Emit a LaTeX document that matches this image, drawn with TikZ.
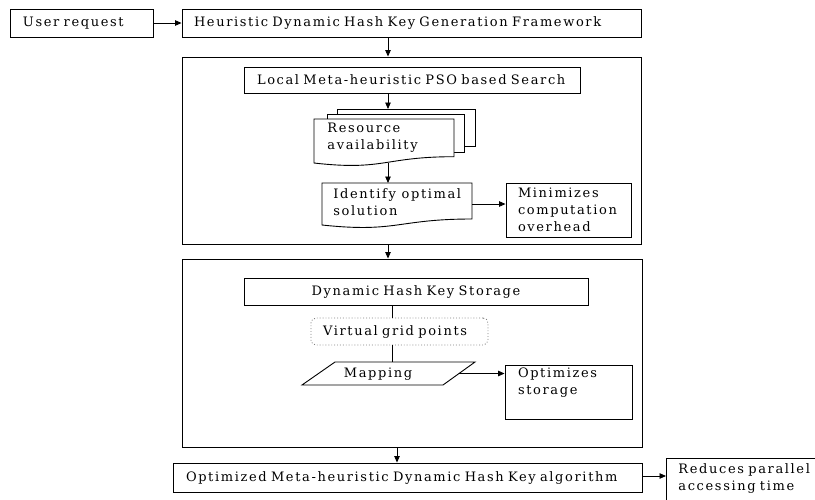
\documentclass[tikz,border=0pt]{standalone}
\usepackage{fontspec}
\setmainfont{DejaVu Serif}[LetterSpace=12.5]
\usetikzlibrary{arrows.meta}
\begin{document}
\begin{tikzpicture}[x=1pt,y=-1pt, line width=0.9pt,
  bx/.style={draw, rectangle, align=left, inner ysep=0pt},
  arr/.style={-{Triangle[length=6.5pt,width=5.5pt]}},
  txt/.style={anchor=west, align=left, inner sep=0pt},
  font=\fontsize{13}{17}\selectfont]
\useasboundingbox (0,0) rectangle (815,499);
\clip (0,0) rectangle (815,499);
% outer frames
\node[draw, minimum width=459pt, minimum height=187pt, inner sep=0pt] (box1) at (411.5,150.5) {};
\node[draw, minimum width=460pt, minimum height=188pt, inner sep=0pt] (box2) at (412,353) {};
% top row
\node[bx, minimum width=143pt, minimum height=28pt, text width=117pt, inner xsep=13pt] (user) at (81.5,23) {User request};
\node[bx, minimum width=459pt, minimum height=28pt, text width=435pt, inner xsep=12pt] (heur) at (411.5,23) {Heuristic Dynamic Hash Key Generation Framework};
% box 1 content
\node[bx, minimum width=336pt, minimum height=26pt, text width=310pt, inner xsep=13pt] (local) at (412,80) {Local Meta-heuristic PSO based Search};
\coordinate (spine) at (388,0);
\draw[fill=white] (337,109) rectangle (475,146);
\draw[fill=white] (327,114) rectangle (464,152);
\draw[fill=white] (314,119) -- (454,119) -- (454,156.7) .. controls (384,156.7) and (384,171) .. (314,163) -- cycle;
\node[txt] (res) at (327,137.5) {Resource\\availability};
\coordinate (restop) at (388,109);
\coordinate (resbot) at (388,163);
\draw (322,183) -- (472,183) -- (472,219) .. controls (397,219) and (397,233) .. (322,225) -- cycle;
\node[txt] (ident) at (333,202) {Identify optimal\\solution};
\coordinate (idtop) at (388,183);
\coordinate (idright) at (472,204);
\node[bx, minimum width=125pt, minimum height=54pt, text width=101pt, inner xsep=12pt] (minimizes) at (568.5,210) {Minimizes\\computation\\overhead};
% box 2 content
\node[bx, minimum width=344pt, minimum height=27pt, text width=320pt, inner xsep=12pt, align=center] (dhks) at (416,291.5) {Dynamic Hash Key Storage};
\node[bx, draw=gray, dotted, rounded corners=5pt, minimum width=177pt, minimum height=27pt, text width=153pt, inner xsep=12pt] (virtual) at (399.5,331.5) {Virtual grid points};
\draw (335,362) -- (475,362) -- (443,385) -- (302,385) -- cycle;
\node[inner sep=0pt] (mapping) at (378,374) {Mapping};
\coordinate (maptop) at (392,362);
\coordinate (mapright) at (459,373.5);
\node[bx, minimum width=127pt, minimum height=54pt, text width=101pt, inner xsep=13pt] (optimizes) at (568.5,392) {Optimizes\\storage\\\strut};
% bottom row
\node[bx, minimum width=469pt, minimum height=29pt, text width=443pt, inner xsep=13pt] (optimized) at (407.5,477.5) {Optimized Meta-heuristic Dynamic Hash Key algorithm};
\node[bx, anchor=north west, minimum width=200pt, minimum height=60pt, text width=176pt, inner xsep=12pt, inner ysep=5pt] (reduces) at (666,458) {Reduces parallel\\accessing time\\\strut};
\coordinate (dn) at (397,0);
\coordinate (ry) at (0,476);
% connectors
\draw[arr] (user.east) -- (heur.west);
\draw[arr] (spine |- heur.south) -- (spine |- box1.north);
\draw[arr] (spine |- local.south) -- (restop);
\draw[arr] (resbot) -- (idtop);
\draw[arr] (idright) -- (idright -| minimizes.west);
\draw[arr] (spine |- box1.south) -- (spine |- box2.north);
\draw (dhks.south -| maptop) -- (virtual.north -| maptop);
\draw (virtual.south -| maptop) -- (maptop);
\draw[arr] (mapright) -- (mapright -| optimizes.west);
\draw[arr] (dn |- box2.south) -- (dn |- optimized.north);
\draw[arr] (optimized.east |- ry) -- (reduces.west |- ry);
\end{tikzpicture}
\end{document}
